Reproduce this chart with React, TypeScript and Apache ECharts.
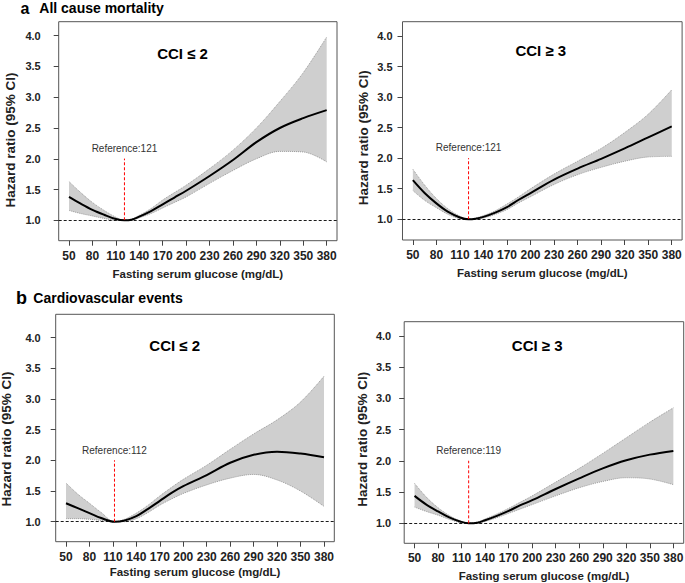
import React, { useEffect, useRef } from "react";
import * as echarts from "echarts";

// ---------- data ----------
const xTicks = [50, 80, 110, 140, 170, 200, 230, 260, 290, 320, 350, 380];
const yTicks = [1.0, 1.5, 2.0, 2.5, 3.0, 3.5, 4.0];

const sectionTitles = ["All cause mortality", "Cardiovascular events"];
const sectionLetters = ["a", "b"];
const panelTitles = ["CCI ≤ 2", "CCI ≥ 3", "CCI ≤ 2", "CCI ≥ 3"];
const referenceValues = [121, 121, 112, 119];
const referenceTop = [2.0, 2.0, 2.0, 2.0];

// a) All cause mortality, CCI <= 2
const glucoseA1 = [50, 65, 80, 95, 110, 121, 130, 140, 155, 170, 185, 200, 230, 260, 290, 320, 350, 380];
const hrA1 = [1.38, 1.27, 1.17, 1.09, 1.02, 1.0, 1.01, 1.06, 1.15, 1.26, 1.37, 1.48, 1.72, 1.98, 2.27, 2.5, 2.66, 2.79];
const upperA1 = [1.63, 1.45, 1.29, 1.16, 1.05, 1.0, 1.02, 1.08, 1.19, 1.33, 1.45, 1.57, 1.84, 2.14, 2.5, 2.93, 3.4, 3.98];
const lowerA1 = [1.16, 1.11, 1.07, 1.03, 1.0, 1.0, 1.0, 1.04, 1.11, 1.2, 1.29, 1.38, 1.6, 1.81, 2.0, 2.12, 2.11, 1.95];

// a) All cause mortality, CCI >= 3
const glucoseA2 = [50, 65, 80, 95, 110, 121, 130, 140, 155, 170, 185, 200, 230, 260, 290, 320, 350, 380];
const hrA2 = [1.64, 1.43, 1.26, 1.12, 1.03, 1.0, 1.01, 1.04, 1.11, 1.2, 1.32, 1.43, 1.65, 1.83, 1.99, 2.16, 2.34, 2.52];
const upperA2 = [1.82, 1.56, 1.34, 1.17, 1.05, 1.0, 1.02, 1.06, 1.14, 1.25, 1.37, 1.5, 1.74, 1.95, 2.16, 2.42, 2.72, 3.12];
const lowerA2 = [1.47, 1.31, 1.19, 1.08, 1.01, 1.0, 1.0, 1.02, 1.08, 1.16, 1.27, 1.37, 1.57, 1.73, 1.85, 1.95, 2.02, 2.03];

// b) Cardiovascular events, CCI <= 2
const glucoseB1 = [50, 65, 80, 95, 112, 125, 140, 155, 170, 185, 200, 230, 260, 290, 320, 350, 380];
const hrB1 = [1.3, 1.22, 1.14, 1.06, 1.0, 1.02, 1.09, 1.21, 1.34, 1.47, 1.58, 1.76, 1.96, 2.09, 2.14, 2.11, 2.05];
const upperB1 = [1.63, 1.45, 1.3, 1.15, 1.0, 1.04, 1.14, 1.27, 1.42, 1.56, 1.69, 1.92, 2.18, 2.43, 2.66, 2.95, 3.37];
const lowerB1 = [1.05, 1.05, 1.04, 1.02, 1.0, 1.0, 1.05, 1.15, 1.27, 1.37, 1.46, 1.6, 1.71, 1.77, 1.68, 1.5, 1.25];

// b) Cardiovascular events, CCI >= 3
const glucoseB2 = [50, 65, 80, 95, 108, 119, 130, 140, 155, 170, 185, 200, 230, 260, 290, 320, 350, 380];
const hrB2 = [1.44, 1.3, 1.19, 1.09, 1.03, 1.0, 1.01, 1.05, 1.12, 1.2, 1.29, 1.37, 1.55, 1.72, 1.88, 2.01, 2.1, 2.16];
const upperB2 = [1.64, 1.42, 1.25, 1.12, 1.04, 1.0, 1.02, 1.07, 1.15, 1.24, 1.34, 1.44, 1.66, 1.88, 2.12, 2.37, 2.62, 2.85];
const lowerB2 = [1.26, 1.19, 1.13, 1.06, 1.01, 1.0, 1.0, 1.03, 1.09, 1.16, 1.23, 1.3, 1.44, 1.57, 1.67, 1.73, 1.71, 1.62];

const panelX = [glucoseA1, glucoseA2, glucoseB1, glucoseB2];
const panelHR = [hrA1, hrA2, hrB1, hrB2];
const panelUpper = [upperA1, upperA2, upperB1, upperB2];
const panelLower = [lowerA1, lowerA2, lowerB1, lowerB2];

// ---------- layout ----------
const FONT = "'Liberation Sans', Arial, Helvetica, sans-serif";
const SMOOTH = 0.35;
const layout = [
  { left: 58.7, top: 21.7, width: 278.3, height: 219, ymin: 0.668, ymax: 4.228, labelMargin: 18, nameGap: 27, title: [182.5, 53.3], yName: [10, 140] },
  { left: 402.5, top: 21.7, width: 279.6, height: 218.3, ymin: 0.661, ymax: 4.234, labelMargin: 10, nameGap: 27, title: [540.8, 50], yName: [363.8, 137.8] },
  { left: 55.7, top: 314.3, width: 278.6, height: 227.4, ymin: 0.674, ymax: 4.38, labelMargin: 15, nameGap: 24.5, title: [174.7, 345], yName: [6.7, 439] },
  { left: 404.2, top: 321.7, width: 279.5, height: 221.6, ymin: 0.68, ymax: 4.229, labelMargin: 13, nameGap: 27, title: [537.2, 345], yName: [362.2, 439.2] },
];
const sectionPos = [
  { letterX: 20.5, textX: 39.3, y: 8, letterSize: 16 },
  { letterX: 16, textX: 33.3, y: 298, letterSize: 18 },
];

// cubic segments through pixel points, same scheme as ECharts' smooth line
type Seg = [number, number, number, number, number, number, number, number];
function smoothSegments(pts: number[][], smooth: number): Seg[] {
  const segs: Seg[] = [];
  const n = pts.length;
  let cpx0 = pts[0][0], cpy0 = pts[0][1];
  for (let i = 1; i < n; i++) {
    const [px, py] = pts[i - 1];
    const [x, y] = pts[i];
    let cpx1: number, cpy1: number, ncx = x, ncy = y;
    if (i === n - 1) {
      cpx1 = x; cpy1 = y;
    } else {
      const [nx, ny] = pts[i + 1];
      let vx = nx - px, vy = ny - py;
      const dx0 = x - px, dy0 = y - py, dx1 = nx - x, dy1 = ny - y;
      const lp = Math.sqrt(dx0 * dx0 + dy0 * dy0);
      const ln = Math.sqrt(dx1 * dx1 + dy1 * dy1);
      const r = ln / (ln + lp);
      ncx = x + vx * smooth * r;
      ncy = y + vy * smooth * r;
      ncx = Math.min(ncx, Math.max(nx, x)); ncy = Math.min(ncy, Math.max(ny, y));
      ncx = Math.max(ncx, Math.min(nx, x)); ncy = Math.max(ncy, Math.min(ny, y));
      vx = ncx - x; vy = ncy - y;
      cpx1 = x - vx * lp / ln; cpy1 = y - vy * lp / ln;
      cpx1 = Math.min(cpx1, Math.max(px, x)); cpy1 = Math.min(cpy1, Math.max(py, y));
      cpx1 = Math.max(cpx1, Math.min(px, x)); cpy1 = Math.max(cpy1, Math.min(py, y));
      vx = x - cpx1; vy = y - cpy1;
      ncx = x + vx * ln / lp; ncy = y + vy * ln / lp;
    }
    segs.push([px, py, cpx0, cpy0, cpx1, cpy1, x, y]);
    cpx0 = ncx; cpy0 = ncy;
  }
  return segs;
}
const f = (v: number) => v.toFixed(2);
function forwardPath(segs: Seg[]): string {
  let d = `M${f(segs[0][0])},${f(segs[0][1])}`;
  segs.forEach((s) => { d += ` C${f(s[2])},${f(s[3])} ${f(s[4])},${f(s[5])} ${f(s[6])},${f(s[7])}`; });
  return d;
}
function reversePath(segs: Seg[]): string {
  const last = segs[segs.length - 1];
  let d = `L${f(last[6])},${f(last[7])}`;
  for (let i = segs.length - 1; i >= 0; i--) {
    const s = segs[i];
    d += ` C${f(s[4])},${f(s[5])} ${f(s[2])},${f(s[3])} ${f(s[0])},${f(s[1])}`;
  }
  return d;
}

function buildOption() {
  const grid: any[] = [];
  const xAxis: any[] = [];
  const yAxis: any[] = [];
  const series: any[] = [];
  const graphic: any[] = [];

  layout.forEach((L, i) => {
    grid.push({
      left: L.left, top: L.top, width: L.width, height: L.height,
      show: true, borderColor: "#555", borderWidth: 1, backgroundColor: "transparent",
      containLabel: false, outerBoundsMode: "none",
    });
    xAxis.push({
      type: "value", gridIndex: i, min: 36.8, max: 393.2,
      axisLine: { show: false },
      splitLine: { show: false },
      axisTick: { show: true, length: 5, lineStyle: { color: "#444" }, customValues: xTicks },
      axisLabel: { customValues: xTicks, margin: 9, fontSize: 12, fontWeight: "bold", color: "#222", fontFamily: FONT },
      name: "Fasting serum glucose (mg/dL)", nameLocation: "middle", nameGap: L.nameGap,
      nameTextStyle: { fontSize: 11.5, fontWeight: "bold", color: "#222", fontFamily: FONT },
    });
    yAxis.push({
      type: "value", gridIndex: i, min: L.ymin, max: L.ymax,
      axisLine: { show: false },
      splitLine: { show: false },
      axisTick: { show: true, length: 5, lineStyle: { color: "#444" }, customValues: yTicks },
      axisLabel: {
        customValues: yTicks, margin: L.labelMargin, fontSize: 11, fontWeight: "bold", color: "#222", fontFamily: FONT,
        formatter: (v: number) => v.toFixed(1),
      },
    });

    const xs = panelX[i];
    const lower = panelLower[i];
    const upper = panelUpper[i];
    const hr = panelHR[i];

    // 95% CI band: grey fill with dotted edges
    series.push({
      type: "custom", xAxisIndex: i, yAxisIndex: i, coordinateSystem: "cartesian2d",
      silent: true, z: 1, clip: true,
      data: [[xs[0], lower[0]]],
      renderItem: (_params: any, api: any) => {
        const up = xs.map((x, k) => api.coord([x, upper[k]]));
        const lo = xs.map((x, k) => api.coord([x, lower[k]]));
        const su = smoothSegments(up, SMOOTH);
        const sl = smoothSegments(lo, SMOOTH);
        const band = forwardPath(su) + " " + reversePath(sl) + " Z";
        const edgeStyle = { fill: "none", stroke: "#8c8c8c", lineWidth: 0.8, lineDash: [1, 1] };
        return {
          type: "group",
          children: [
            { type: "path", shape: { pathData: band }, style: { fill: "#cfcfcf", stroke: "none" } },
            { type: "path", shape: { pathData: forwardPath(su) }, style: edgeStyle },
            { type: "path", shape: { pathData: forwardPath(sl) }, style: edgeStyle },
          ],
        };
      },
    });

    // hazard ratio curve + dashed line at HR = 1
    series.push({
      type: "line", xAxisIndex: i, yAxisIndex: i, smooth: SMOOTH,
      showSymbol: false, silent: true, z: 3,
      lineStyle: { color: "#000", width: 2 },
      itemStyle: { color: "#000" },
      data: xs.map((x, k) => [x, hr[k]]),
      markLine: {
        silent: true, symbol: ["none", "none"], animation: false,
        label: { show: false },
        lineStyle: { color: "#000", type: [3, 2], width: 0.9 },
        data: [{ yAxis: 1 }],
      },
    });

    // reference value: red dashed vertical segment with label on top
    const ref = referenceValues[i];
    series.push({
      type: "line", xAxisIndex: i, yAxisIndex: i,
      silent: true, z: 4,
      color: "#ff0000",
      showSymbol: true, symbol: "circle", symbolSize: 0.5,
      itemStyle: { color: "#ff0000" },
      lineStyle: { color: "#ff0000", type: [3, 2], width: 1 },
      label: { show: false },
      data: [
        [ref, 1],
        {
          value: [ref, referenceTop[i]],
          label: {
            show: true, position: "top", distance: 5, formatter: "Reference:" + ref,
            fontSize: 10, color: "#333", fontFamily: FONT,
          },
        },
      ],
    });

    graphic.push({
      type: "text", x: L.title[0], y: L.title[1],
      style: { text: panelTitles[i], fontSize: 15, fontWeight: "bold", fill: "#000", fontFamily: FONT, align: "center", verticalAlign: "middle" },
    });
    graphic.push({
      type: "text", x: L.yName[0], y: L.yName[1], rotation: Math.PI / 2,
      style: { text: "Hazard ratio (95% CI)", fontSize: 13.5, fontWeight: "bold", fill: "#222", fontFamily: FONT, align: "center", verticalAlign: "middle" },
    });
  });

  sectionPos.forEach((S, j) => {
    graphic.push({
      type: "text", x: S.letterX, y: S.y,
      style: { text: sectionLetters[j], fontSize: S.letterSize, fontWeight: "bold", fill: "#000", fontFamily: FONT, align: "left", verticalAlign: "middle" },
    });
    graphic.push({
      type: "text", x: S.textX, y: S.y,
      style: { text: sectionTitles[j], fontSize: 14, fontWeight: "bold", fill: "#000", fontFamily: FONT, align: "left", verticalAlign: "middle" },
    });
  });

  return {
    animation: false,
    backgroundColor: "#fff",
    textStyle: { fontFamily: FONT },
    grid, xAxis, yAxis, series, graphic,
  };
}

export default function App() {
  const ref = useRef<HTMLDivElement>(null);
  useEffect(() => {
    if (!ref.current) return;
    const chart = echarts.init(ref.current, null, { renderer: "svg" });
    chart.setOption(buildOption() as any);
    return () => chart.dispose();
  }, []);
  return (
    <div
      ref={ref}
      style={{ position: "fixed", left: 0, top: 0, width: 685, height: 583, background: "#fff" }}
    />
  );
}
